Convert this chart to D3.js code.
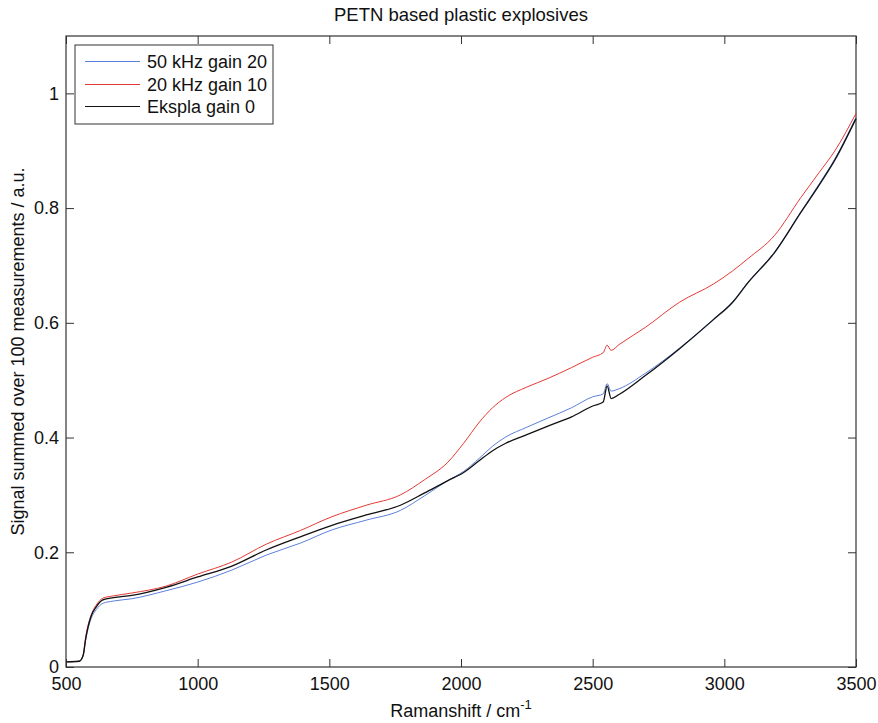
<!DOCTYPE html>
<html><head><meta charset="utf-8">
<script src="https://cdn.jsdelivr.net/npm/d3@7"></script>
<style>
body{margin:0;background:#fff;}
svg text{font-family:"Liberation Sans",Arial,sans-serif;fill:#111;}
</style></head>
<body><svg id="c" width="878" height="723"></svg>
<script>
const wavenumbers = [500,550,565,575,595,615,640,680,750,880,1000,1130,1260,1390,1510,1640,1770,1860,1950,2010,2070,2120,2170,2250,2330,2420,2500,2540,2555,2570,2600,2700,2830,2960,3030,3090,3190,3290,3360,3420,3500];
const blue50kHz = [.009,.010,.019,.048,.084,.100,.111,.115,.119,.133,.148,.169,.195,.216,.239,.256,.273,.298,.325,.341,.364,.385,.401,.418,.434,.452,.471,.476,.494,.481,.485,.512,.556,.607,.636,.671,.723,.793,.842,.886,.958];
const red20kHz = [.009,.010,.021,.053,.090,.108,.120,.124,.129,.141,.162,.183,.214,.238,.262,.282,.300,.326,.357,.390,.427,.452,.470,.488,.503,.522,.540,.548,.561,.552,.562,.592,.636,.668,.690,.712,.752,.818,.862,.900,.965];
const ekspla = [.009,.010,.020,.050,.088,.105,.117,.121,.125,.139,.157,.176,.204,.227,.247,.265,.282,.303,.325,.339,.360,.377,.390,.405,.420,.436,.455,.462,.490,.468,.475,.508,.555,.606,.635,.670,.722,.792,.840,.884,.956];
const seriesNames = ["50 kHz gain 20","20 kHz gain 10","Ekspla gain 0"];
const seriesColors = ["#5b7fdc","#e43a36","#111111"];
const xTicks = [500,1000,1500,2000,2500,3000,3500];
const yTicks = [0,0.2,0.4,0.6,0.8,1];

const svg = d3.select("#c");
const L=66,R=856,T=36,B=667;
const x = d3.scaleLinear().domain([500,3500]).range([L,R]);
const y = d3.scaleLinear().domain([0,1.1]).range([B,T]);
const axColor="#333";

function styleAxis(g){g.select(".domain").remove();g.selectAll("line").attr("stroke",axColor);g.selectAll("text").style("font-size","18px").attr("fill","#111");}

svg.append("g").attr("transform",`translate(0,${B})`)
  .call(d3.axisBottom(x).tickValues(xTicks).tickSize(-8).tickPadding(10).tickFormat(d3.format("d"))).call(styleAxis);
svg.append("g").attr("transform",`translate(0,${T})`)
  .call(d3.axisTop(x).tickValues(xTicks).tickSize(-8).tickFormat("")).call(styleAxis);
svg.append("g").attr("transform",`translate(${L},0)`)
  .call(d3.axisLeft(y).tickValues(yTicks).tickSize(-8).tickPadding(7).tickFormat(d=>d===0?"0":d===1?"1":d3.format(".1f")(d))).call(styleAxis);
svg.append("g").attr("transform",`translate(${R},0)`)
  .call(d3.axisRight(y).tickValues(yTicks).tickSize(-8).tickFormat("")).call(styleAxis);

svg.append("rect").attr("x",L).attr("y",T).attr("width",R-L).attr("height",B-T)
  .attr("fill","none").attr("stroke",axColor).attr("stroke-width",1.2);

const data=[blue50kHz,red20kHz,ekspla];
const line=d3.line().x((d,i)=>x(wavenumbers[i])).y(d=>y(d)).curve(d3.curveMonotoneX);
data.forEach((s,k)=>{
  svg.append("path").datum(s).attr("d",line).attr("fill","none")
    .attr("stroke",seriesColors[k]).attr("stroke-width",k===2?1.3:1);
});

svg.append("text").attr("x",(L+R)/2).attr("y",21).attr("text-anchor","middle").style("font-size","18.5px").text("PETN based plastic explosives");
const xl=svg.append("text").attr("x",(L+R)/2).attr("y",717).attr("text-anchor","middle").style("font-size","18px");
xl.append("tspan").text("Ramanshift / cm");
xl.append("tspan").attr("dy",-8).style("font-size","13px").text("-1");
svg.append("text").attr("transform",`translate(24,${(T+B)/2}) rotate(-90)`).attr("text-anchor","middle").style("font-size","18px")
  .text("Signal summed over 100 measurements / a.u.");

const lg=svg.append("g");
lg.append("rect").attr("x",75).attr("y",45).attr("width",198).attr("height",79).attr("fill","#fff").attr("stroke",axColor).attr("stroke-width",1);
seriesNames.forEach((n,k)=>{
  const yy=Math.round(61+k*22.5)+0.5;
  lg.append("line").attr("x1",85).attr("x2",140).attr("y1",yy).attr("y2",yy).attr("stroke",seriesColors[k]).attr("stroke-width",1);
  lg.append("text").attr("x",147).attr("y",yy+6).style("font-size","18px").text(n);
});
</script></body></html>
